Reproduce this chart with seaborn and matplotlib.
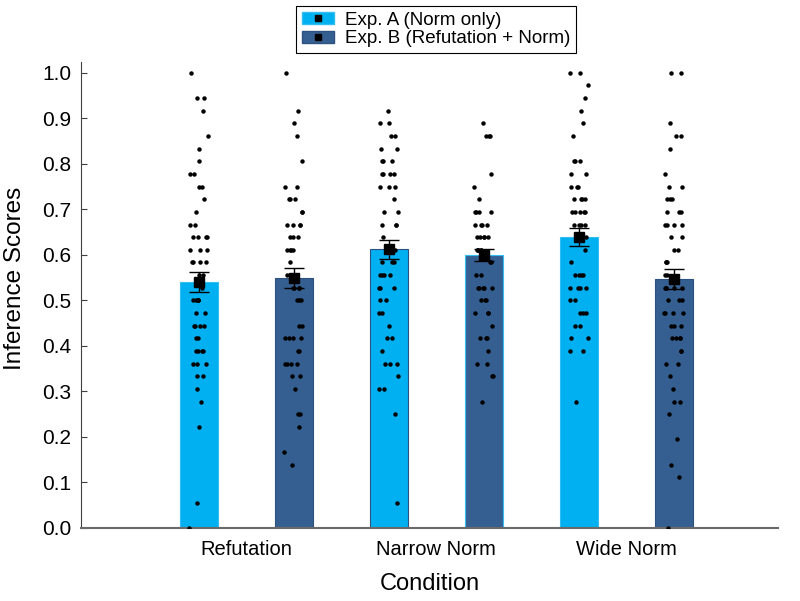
import numpy as np
import pandas as pd
import seaborn as sns
import matplotlib.pyplot as plt
from matplotlib.patches import Patch
from matplotlib.lines import Line2D
from matplotlib.legend_handler import HandlerTuple

sns.set_style('white')
plt.rcParams['font.family'] = ['Liberation Sans', 'DejaVu Sans']
plt.rcParams['text.color'] = 'black'
plt.rcParams['axes.labelcolor'] = 'black'
plt.rcParams['xtick.color'] = 'black'
plt.rcParams['ytick.color'] = 'black'

# scores, as numerators of k/36
ref_a = [36, 34, 34, 33, 31, 30, 29, 28, 28, 27, 27, 26, 25, 24, 24, 23, 23, 23, 23, 22, 22, 22,
         21, 21, 21, 21, 20, 20, 19, 18, 18, 18, 18, 18, 17, 17, 16, 16, 16, 16, 15, 15, 14, 14,
         14, 14, 13, 13, 13, 12, 12, 11, 10, 8, 2, 0]
ref_b = [36, 33, 32, 31, 29, 27, 27, 26, 26, 26, 25, 25, 24, 24, 24, 24, 23, 23, 23, 22, 22, 22,
         22, 21, 20, 20, 20, 19, 19, 19, 19, 18, 18, 18, 16, 16, 15, 15, 15, 15, 14, 14, 13, 13,
         13, 13, 12, 12, 11, 9, 9, 8, 6, 5]
narrow_a = [33, 32, 32, 31, 31, 30, 30, 29, 29, 29, 28, 28, 28, 28, 27, 27, 27, 26, 25, 25, 24,
            24, 24, 23, 22, 22, 22, 21, 21, 21, 20, 20, 20, 20, 19, 19, 19, 18, 18, 17, 17, 16,
            15, 15, 14, 13, 13, 13, 12, 11, 11, 9, 2]
narrow_b = [32, 31, 31, 31, 28, 27, 26, 25, 25, 25, 25, 24, 24, 24, 24, 23, 23, 23, 23, 23, 22,
            22, 22, 22, 22, 21, 21, 20, 20, 19, 19, 19, 19, 19, 18, 18, 18, 17, 17, 17, 16, 15,
            15, 15, 14, 13, 13, 12, 12, 10]
wide_a = [36, 36, 35, 34, 33, 32, 31, 29, 29, 29, 28, 28, 27, 27, 27, 26, 26, 26, 26, 25, 25, 25,
          25, 25, 24, 24, 24, 24, 23, 23, 22, 21, 20, 20, 20, 20, 19, 19, 19, 19, 18, 18, 17, 17,
          17, 16, 16, 15, 15, 14, 14, 10]
wide_b = [36, 36, 32, 31, 31, 30, 28, 27, 27, 26, 26, 26, 25, 25, 25, 24, 24, 24, 24, 23, 23, 22,
          22, 21, 21, 21, 20, 20, 19, 19, 19, 19, 19, 18, 18, 18, 17, 17, 17, 17, 16, 16, 16, 15,
          15, 15, 15, 14, 14, 13, 13, 12, 11, 10, 10, 9, 7, 5, 4, 0]

conditions = ['Refutation', 'Narrow Norm', 'Wide Norm']
experiments = ['Exp. A (Norm only)', 'Exp. B (Refutation + Norm)']
cells = ['Refutation A', 'Refutation B', 'Narrow A', 'Narrow B', 'Wide A', 'Wide B']
cell_exp = [experiments[0], experiments[1]] * 3
means = [0.541, 0.550, 0.612, 0.600, 0.639, 0.547]
sems = [0.022, 0.022, 0.021, 0.013, 0.019, 0.022]
colors = ['#00B0F0', '#365F91']
edges = ['#33BDF2', '#2E5280']

raw = [ref_a, ref_b, narrow_a, narrow_b, wide_a, wide_b]
points = pd.DataFrame({'cell': np.repeat(cells, [len(r) for r in raw]),
                       'score': np.concatenate(raw) / 36})
summary = pd.DataFrame({'cell': cells, 'exp': cell_exp, 'mean': means, 'sem': sems})

fig, ax = plt.subplots(figsize=(8, 6.01), dpi=100)
fig.subplots_adjust(left=0.101, right=0.9725, bottom=0.1215, top=0.897)

sns.barplot(data=summary, x='cell', y='mean', hue='exp', order=cells, hue_order=experiments,
            palette=colors, saturation=1, dodge=False, width=0.4, errorbar=None, legend=False,
            ax=ax, edgecolor='none')
for bar, c in zip(ax.patches, summary['exp'].map(dict(zip(experiments, edges)))):
    bar.set_edgecolor(c)
    bar.set_linewidth(0.8)

np.random.seed(7)
sns.stripplot(data=points, x='cell', y='score', order=cells, color='black', size=3.2,
              jitter=0.1, linewidth=0, ax=ax, zorder=3)

ax.errorbar(np.arange(len(cells)), summary['mean'], yerr=summary['sem'], fmt='s', color='black',
            markersize=6.5, elinewidth=1, capsize=7, capthick=1, zorder=4)

ax.set_xlim(-1.24, 6.1)
ax.set_ylim(0, 1.024)
ax.set_yticks(np.arange(0, 1.01, 0.1))
ax.set_yticklabels([f'{v:.1f}' for v in np.arange(0, 1.01, 0.1)])
ax.set_xticks([0.5, 2.5, 4.5])
ax.set_xticklabels(conditions)
ax.tick_params(axis='x', length=0, labelsize=14.5, pad=9)
ax.tick_params(axis='y', direction='in', length=4, width=0.8, color='#404040', labelsize=15,
               left=True, pad=7)
ax.set_xlabel('Condition', fontsize=17, labelpad=10)
ax.set_ylabel('Inference Scores', fontsize=17.5)
ax.yaxis.set_label_coords(-0.079, 0.536)

sns.despine(ax=ax)
ax.spines['left'].set_color('#404040')
ax.spines['left'].set_linewidth(0.8)
ax.spines['bottom'].set_color('#6a6a6a')
ax.spines['bottom'].set_linewidth(1.5)

handles = [(Patch(facecolor=c, edgecolor=e),
            Line2D([], [], marker='s', color='black', linestyle='', markersize=5))
           for c, e in zip(colors, edges)]
leg = ax.legend(handles, experiments, handler_map={tuple: HandlerTuple(ndivide=1)},
                loc='lower center', bbox_to_anchor=(0.51, 1.019), fontsize=13.5, frameon=True,
                fancybox=False, framealpha=1, edgecolor='black', handlelength=1.7,
                handleheight=0.65, borderpad=0.3, labelspacing=0.1, handletextpad=0.6,
                borderaxespad=0)
leg.get_frame().set_linewidth(0.8)

fig.savefig('out.png', dpi=100)
